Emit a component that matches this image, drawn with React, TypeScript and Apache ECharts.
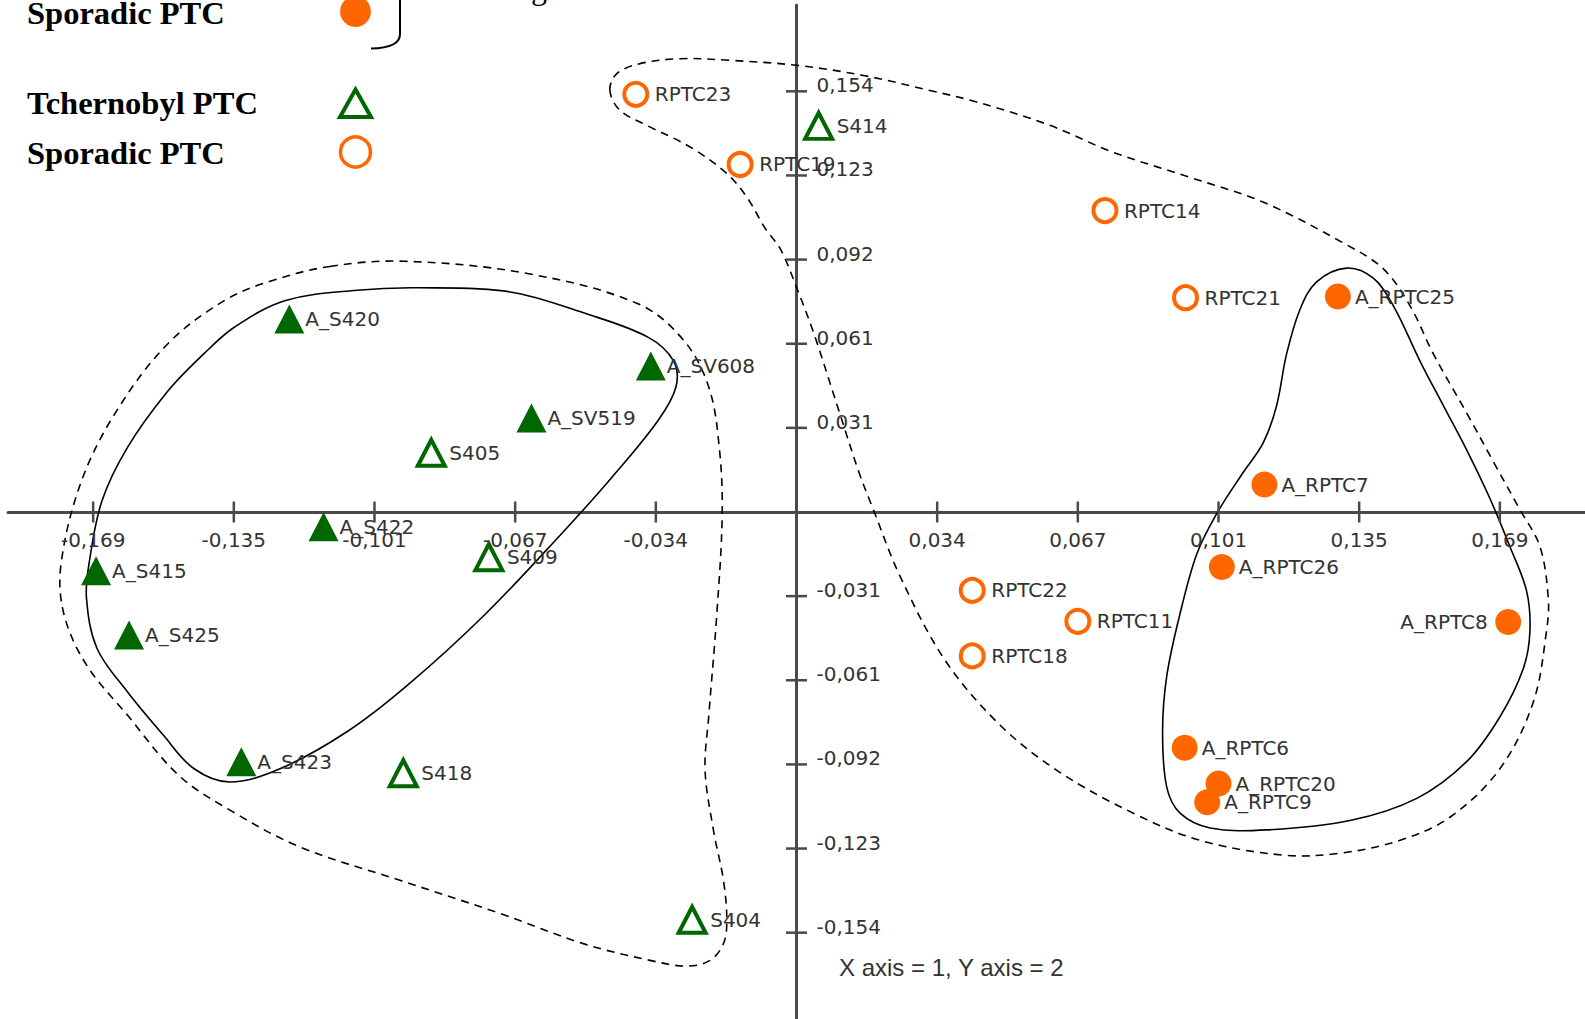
import React, { useEffect, useRef } from "react";
import * as echarts from "echarts";

// ---------- axes ----------
const X_STEP = 0.0337;
const Y_STEP = 0.0307;
const X_RANGE = 0.1889;
const Y_RANGE = 0.185;
const X_TICK_MULTIPLES = [-5, -4, -3, -2, -1, 1, 2, 3, 4, 5];
const X_TICK_LABELS = ["-0,169", "-0,135", "-0,101", "-0,067", "-0,034", "0,034", "0,067", "0,101", "0,135", "0,169"];
const Y_TICK_MULTIPLES = [-5, -4, -3, -2, -1, 1, 2, 3, 4, 5];
const Y_TICK_LABELS = ["-0,154", "-0,123", "-0,092", "-0,061", "-0,031", "0,031", "0,061", "0,092", "0,123", "0,154"];

// ---------- points [x, y, name] ----------
const TCHERNOBYL_A: [number, number, string][] = [
  [-0.1215, 0.0704, "A_S420"],
  [-0.0349, 0.0533, "A_SV608"],
  [-0.0635, 0.0343, "A_SV519"],
  [-0.1133, -0.0054, "A_S422"],
  [-0.1678, -0.0214, "A_S415"],
  [-0.1599, -0.0449, "A_S425"],
  [-0.133, -0.0911, "A_S423"],
];
const TCHERNOBYL: [number, number, string][] = [
  [0.0053, 0.1409, "S414"],
  [-0.0875, 0.0216, "S405"],
  [-0.0737, -0.0165, "S409"],
  [-0.0942, -0.0953, "S418"],
  [-0.025, -0.1488, "S404"],
];
const SPORADIC_A: [number, number, string][] = [
  [0.1297, 0.0786, "A_RPTC25"],
  [0.1121, 0.01, "A_RPTC7"],
  [0.1019, -0.0201, "A_RPTC26"],
  [0.1705, -0.0401, "A_RPTC8"],
  [0.093, -0.086, "A_RPTC6"],
  [0.1011, -0.0991, "A_RPTC20"],
  [0.0984, -0.1059, "A_RPTC9"],
];
const SPORADIC: [number, number, string][] = [
  [-0.0385, 0.1524, "RPTC23"],
  [-0.0135, 0.1268, "RPTC19"],
  [0.0739, 0.11, "RPTC14"],
  [0.0932, 0.0782, "RPTC21"],
  [0.0421, -0.0286, "RPTC22"],
  [0.0674, -0.0399, "RPTC11"],
  [0.0421, -0.0525, "RPTC18"],
];
const LEFT_LABELS = ["A_RPTC8"];

// ---------- group outlines (data coordinates) ----------
const LEFT_INNER: [number, number][] = [
  [-0.1346, 0.0675], [-0.1224, 0.0772], [-0.1053, 0.0809], [-0.0907, 0.0818], [-0.0686, 0.0803],
  [-0.0503, 0.0723], [-0.0356, 0.0638], [-0.0295, 0.0552], [-0.0289, 0.0455], [-0.0332, 0.0333],
  [-0.0442, 0.0127], [-0.0564, -0.0081], [-0.0747, -0.0375], [-0.0931, -0.0631], [-0.1077, -0.0802],
  [-0.1236, -0.0936], [-0.1358, -0.0985], [-0.1444, -0.0936], [-0.1517, -0.0814], [-0.1603, -0.0656],
  [-0.1676, -0.0497], [-0.1701, -0.0314], [-0.1694, -0.018], [-0.1664, 0.004], [-0.1603, 0.0235],
  [-0.1505, 0.0443], [-0.142, 0.0577],
];
const LEFT_OUTER: [number, number][] = [
  [-0.1118, 0.0896], [-0.094, 0.0915], [-0.0648, 0.0871], [-0.038, 0.076], [-0.027, 0.0626],
  [-0.021, 0.0455], [-0.0185, 0.0235], [-0.0178, -0.0008], [-0.0191, -0.0375], [-0.021, -0.0741],
  [-0.0219, -0.0942], [-0.0199, -0.1161], [-0.0175, -0.1344], [-0.0167, -0.149], [-0.0175, -0.1575],
  [-0.0207, -0.1636], [-0.0263, -0.1657], [-0.0351, -0.1636], [-0.0511, -0.1575], [-0.071, -0.1465],
  [-0.095, -0.1344], [-0.119, -0.1222], [-0.1357, -0.1088], [-0.148, -0.0961], [-0.1603, -0.0741],
  [-0.1701, -0.0558], [-0.1755, -0.0373], [-0.1762, -0.0191], [-0.1713, 0.0113], [-0.1628, 0.0371],
  [-0.1506, 0.0614], [-0.137, 0.0772], [-0.1261, 0.0842],
];
const RIGHT_INNER: [number, number][] = [
  [0.1318, 0.089], [0.1382, 0.0853], [0.143, 0.0752], [0.1494, 0.055], [0.155, 0.0387],
  [0.1606, 0.0225], [0.1661, 0.005], [0.1709, -0.0126], [0.1749, -0.0288], [0.1757, -0.0437],
  [0.1741, -0.0572], [0.1685, -0.0748], [0.1606, -0.091], [0.1486, -0.1045], [0.1326, -0.1126],
  [0.1127, -0.116], [0.0991, -0.1153], [0.0919, -0.1099], [0.0887, -0.1004], [0.0877, -0.0802],
  [0.0887, -0.0599], [0.0919, -0.037], [0.0959, -0.0153], [0.1007, -0.0005], [0.107, 0.0144],
  [0.1118, 0.0252], [0.115, 0.0387], [0.1174, 0.0576], [0.1206, 0.0738], [0.1246, 0.084],
];
const RIGHT_OUTER: [number, number][] = [
  [-0.0447, 0.1538], [-0.0431, 0.1599], [-0.0375, 0.1636], [-0.0279, 0.1654], [-0.0159, 0.1648],
  [0.0, 0.163], [0.016, 0.1593], [0.032, 0.1538], [0.0432, 0.1496], [0.0607, 0.1411],
  [0.0756, 0.1314], [0.0943, 0.1221], [0.1119, 0.113], [0.1312, 0.098], [0.1406, 0.0887],
  [0.147, 0.0752], [0.1526, 0.0576], [0.1606, 0.036], [0.1669, 0.0185], [0.1733, 0.0009],
  [0.1781, -0.0126], [0.1801, -0.0315], [0.1797, -0.0432], [0.1765, -0.0694], [0.1685, -0.0937],
  [0.1566, -0.1113], [0.1446, -0.1198], [0.1302, -0.1245], [0.1167, -0.1252], [0.0967, -0.1198],
  [0.0807, -0.1099], [0.0631, -0.095], [0.0488, -0.0778], [0.0356, -0.0541], [0.0248, -0.0234],
  [0.0182, 0.0017], [0.015, 0.0143], [0.0101, 0.0372], [0.0043, 0.0645], [0.0002, 0.0812],
  [-0.0038, 0.0958], [-0.0075, 0.1035], [-0.0119, 0.1149], [-0.0167, 0.1235], [-0.0255, 0.1332],
  [-0.0359, 0.1411], [-0.0423, 0.1466],
];

// ---------- styles ----------
const ORANGE = "#FF6600";
const GREEN = "#006600";
const AXIS_COLOR = "#4a4a4a";
const TEXT_COLOR = "#333333";
const LABEL_FONT = "DejaVu Sans";

function pointData(arr: [number, number, string][], baseDistance: number) {
  return arr.map(([x, y, name]) => ({
    name,
    value: [x, y],
    label: LEFT_LABELS.includes(name)
      ? { position: "left", distance: 7.5 }
      : { position: "right", distance: baseDistance },
  }));
}

const labelStyle = {
  show: true,
  formatter: "{b}",
  color: TEXT_COLOR,
  fontFamily: LABEL_FONT,
  fontSize: 20,
};

const CONTOURS = [
  { points: LEFT_INNER, dashed: false },
  { points: LEFT_OUTER, dashed: true },
  { points: RIGHT_INNER, dashed: false },
  { points: RIGHT_OUTER, dashed: true },
];

function buildOption(): any {
  // [x, y, orientation (0 = x-axis tick, 1 = y-axis tick), label index]
  const tickData = [
    ...X_TICK_MULTIPLES.map((m, i) => [m * X_STEP, 0, 0, i]),
    ...Y_TICK_MULTIPLES.map((m, i) => [0, m * Y_STEP, 1, i]),
  ];
  const axisBase = {
    type: "value",
    axisLine: { onZero: true, lineStyle: { color: AXIS_COLOR, width: 3 } },
    axisTick: { show: false },
    axisLabel: { show: false },
    splitLine: { show: false },
  };
  return {
    animation: false,
    backgroundColor: "#ffffff",
    grid: { left: 8, right: 0, top: 5, bottom: 0, containLabel: false, outerBoundsMode: "none" },
    xAxis: { ...axisBase, min: -X_RANGE, max: X_RANGE },
    yAxis: { ...axisBase, min: -Y_RANGE, max: Y_RANGE },
    graphic: [
      { type: "text", x: 27, y: 12.5, style: { text: "Sporadic PTC", font: 'bold 32.5px "Liberation Serif"', fill: "#000", verticalAlign: "middle", align: "left" } },
      { type: "text", x: 27, y: 103, style: { text: "Tchernobyl PTC", font: 'bold 32.5px "Liberation Serif"', fill: "#000", verticalAlign: "middle", align: "left" } },
      { type: "text", x: 27, y: 152.5, style: { text: "Sporadic PTC", font: 'bold 32.5px "Liberation Serif"', fill: "#000", verticalAlign: "middle", align: "left" } },
      { type: "text", x: 531, y: -12, style: { text: "g", font: '32px "Liberation Serif"', fill: "#000", verticalAlign: "middle", align: "left" } },
      { type: "circle", shape: { cx: 355.5, cy: 11.5, r: 15.5 }, style: { fill: ORANGE } },
      { type: "polygon", shape: { points: [[355.5, 89.5], [371, 117], [340, 117]] }, style: { fill: "none", stroke: GREEN, lineWidth: 4 } },
      { type: "circle", shape: { cx: 355.5, cy: 152, r: 15 }, style: { fill: "none", stroke: ORANGE, lineWidth: 3.5 } },
      { type: "line", shape: { x1: 400, y1: 0, x2: 400, y2: 34 }, style: { stroke: "#000", lineWidth: 2 } },
      { type: "bezierCurve", shape: { x1: 400, y1: 34, cpx1: 400, cpy1: 48, x2: 371, y2: 48.5 }, style: { stroke: "#000", lineWidth: 2, fill: "none" } },
      { type: "text", x: 839, y: 967.5, style: { text: "X axis = 1, Y axis = 2", font: '24px "Liberation Sans"', fill: TEXT_COLOR, verticalAlign: "middle", align: "left" } },
    ],
    series: [
      {
        type: "custom",
        name: "outlines",
        silent: true,
        z: 1,
        data: CONTOURS.map(() => [0, 0]),
        encode: { x: 0, y: 1 },
        renderItem: (params: any, api: any) => {
          const c = CONTOURS[params.dataIndex];
          const pts = c.points.map((p) => api.coord(p));
          return {
            type: "polygon",
            shape: { points: pts, smooth: 0.35 },
            style: { fill: "none", stroke: "#000", lineWidth: 1.6, lineDash: c.dashed ? [8, 6] : null },
          };
        },
      },
      {
        type: "custom",
        name: "ticks",
        silent: true,
        z: 2,
        data: tickData,
        encode: { x: 0, y: 1 },
        renderItem: (params: any, api: any) => {
          const p = api.coord([api.value(0), api.value(1)]);
          const onX = api.value(2) === 0;
          const idx = api.value(3);
          const L = 10.5;
          const font = `20px "${LABEL_FONT}"`;
          if (onX) {
            return {
              type: "group",
              children: [
                { type: "line", shape: { x1: p[0], y1: p[1] - L, x2: p[0], y2: p[1] + L }, style: { stroke: AXIS_COLOR, lineWidth: 2.5 } },
                { type: "text", x: p[0], y: p[1] + 28, style: { text: X_TICK_LABELS[idx], font, fill: TEXT_COLOR, align: "center", verticalAlign: "middle" } },
              ],
            };
          }
          return {
            type: "group",
            children: [
              { type: "line", shape: { x1: p[0] - L, y1: p[1], x2: p[0] + L, y2: p[1] }, style: { stroke: AXIS_COLOR, lineWidth: 2.5 } },
              { type: "text", x: p[0] + 20, y: p[1] - 6, style: { text: Y_TICK_LABELS[idx], font, fill: TEXT_COLOR, align: "left", verticalAlign: "middle" } },
            ],
          };
        },
      },
      {
        type: "scatter",
        name: "Tchernobyl PTC (A)",
        symbol: "triangle",
        symbolSize: [30, 29],
        itemStyle: { color: GREEN, opacity: 1 },
        label: { ...labelStyle, position: "right", distance: 1 },
        data: pointData(TCHERNOBYL_A, 1),
        z: 4,
      },
      {
        type: "scatter",
        name: "Tchernobyl PTC",
        symbol: "triangle",
        symbolSize: [27, 26],
        itemStyle: { color: "rgba(255,255,255,0)", borderColor: GREEN, borderWidth: 4, opacity: 1 },
        label: { ...labelStyle, position: "right", distance: 2.5 },
        data: pointData(TCHERNOBYL, 2.5),
        z: 4,
      },
      {
        type: "scatter",
        name: "Sporadic PTC (A)",
        symbol: "circle",
        symbolSize: 26,
        itemStyle: { color: ORANGE, opacity: 1 },
        label: { ...labelStyle, position: "right", distance: 4 },
        data: pointData(SPORADIC_A, 4),
        z: 4,
      },
      {
        type: "scatter",
        name: "Sporadic PTC",
        symbol: "circle",
        symbolSize: 23,
        itemStyle: { color: "rgba(255,255,255,0)", borderColor: ORANGE, borderWidth: 4, opacity: 1 },
        label: { ...labelStyle, position: "right", distance: 5.5 },
        data: pointData(SPORADIC, 5.5),
        z: 4,
      },
    ],
  };
}

export default function App() {
  const ref = useRef<HTMLDivElement>(null);
  useEffect(() => {
    if (!ref.current) return;
    const chart = echarts.init(ref.current, null, { renderer: "svg" });
    chart.setOption(buildOption());
    return () => chart.dispose();
  }, []);
  return (
    <div
      ref={ref}
      style={{ position: "absolute", left: 0, top: 0, width: 1585, height: 1019, background: "#fff" }}
    />
  );
}
